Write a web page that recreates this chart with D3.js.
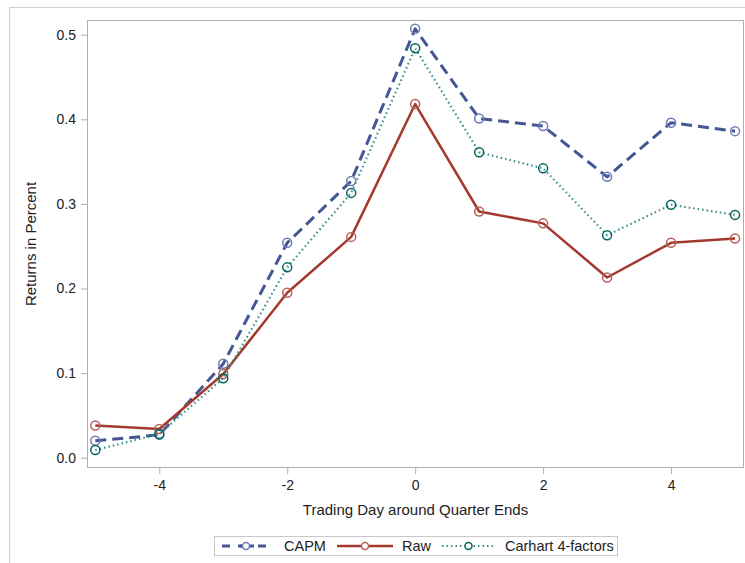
<!DOCTYPE html>
<html>
<head>
<meta charset="utf-8">
<script src="https://cdn.jsdelivr.net/npm/d3@7"></script>
<style>
  body { margin: 0; background: #fff; }
  svg { font-family: "Liberation Sans", Arial, sans-serif; }
</style>
</head>
<body>
<svg id="chart" width="745" height="563"></svg>
<script>
// data
const days = [-5, -4, -3, -2, -1, 0, 1, 2, 3, 4, 5];
const capm = [0.020, 0.027, 0.111, 0.254, 0.327, 0.507, 0.401, 0.392, 0.332, 0.396, 0.386];
const raw = [0.038, 0.034, 0.099, 0.195, 0.261, 0.418, 0.291, 0.277, 0.213, 0.254, 0.259];
const carhart = [0.009, 0.028, 0.094, 0.225, 0.313, 0.484, 0.361, 0.342, 0.263, 0.299, 0.287];
const xTicks = [-4, -2, 0, 2, 4];
const yTicks = [0.0, 0.1, 0.2, 0.3, 0.4, 0.5];

const series = [
  { name: "CAPM", values: capm, color: "#445694", mark: "#6f7db5", width: 3, dash: "11,6" },
  { name: "Raw", values: raw, color: "#a23a2e", mark: "#b8615a", width: 2.5, dash: null },
  { name: "Carhart 4-factors", values: carhart, color: "#3b8f88", mark: "#01665e", width: 2.2, dash: "1.5,3" }
];

const svg = d3.select("#chart");

// outer frame
svg.append("rect")
  .attr("x", 9.5).attr("y", 7.5)
  .attr("width", 760).attr("height", 600)
  .attr("fill", "none").attr("stroke", "#d0d0d0");

const plotL = 87, plotR = 744, plotT = 20, plotB = 468;

const x = d3.scaleLinear().domain([-5.13, 5.14]).range([plotL, plotR]);
const y = d3.scaleLinear().domain([0.0, 0.5]).range([457.7, 34.7]);

// plot frame
svg.append("rect")
  .attr("x", plotL + 0.5).attr("y", plotT + 0.5)
  .attr("width", plotR - plotL - 1).attr("height", plotB - plotT - 1)
  .attr("fill", "none").attr("stroke", "#a9b0b7");

const xAxis = svg.append("g")
  .attr("transform", "translate(0," + plotB + ")")
  .call(d3.axisBottom(x).tickValues(xTicks).tickSize(6).tickPadding(6).tickFormat(d3.format("d")));
const yAxis = svg.append("g")
  .attr("transform", "translate(" + plotL + ",0)")
  .call(d3.axisLeft(y).tickValues(yTicks).tickSize(6).tickPadding(5).tickFormat(d3.format(".1f")));

[xAxis, yAxis].forEach(a => {
  a.select(".domain").remove();
  a.selectAll(".tick line").attr("stroke", "#a9b0b7");
  a.selectAll(".tick text")
    .attr("fill", "#222")
    .style("font-size", "14px")
    .style("font-family", "'Liberation Sans', Arial, sans-serif");
});
// minus sign as plain hyphen like the original
xAxis.selectAll(".tick text").text(d => String(d));

svg.append("text")
  .attr("x", (plotL + plotR) / 2).attr("y", 515)
  .attr("text-anchor", "middle")
  .attr("fill", "#222")
  .style("font-size", "15px")
  .text("Trading Day around Quarter Ends");

svg.append("text")
  .attr("transform", "translate(36," + ((plotT + plotB) / 2) + ") rotate(-90)")
  .attr("text-anchor", "middle")
  .attr("fill", "#222")
  .style("font-size", "15px")
  .text("Returns in Percent");

const line = d3.line()
  .x((d, i) => x(days[i]))
  .y(d => y(d));

// draw order: CAPM, Raw, Carhart
series.forEach(s => {
  svg.append("path")
    .datum(s.values)
    .attr("d", line)
    .attr("fill", "none")
    .attr("stroke", s.color)
    .attr("stroke-width", s.width)
    .attr("stroke-dasharray", s.dash)
    .attr("stroke-linejoin", "round");

  svg.selectAll(null)
    .data(s.values)
    .enter()
    .append("circle")
    .attr("cx", (d, i) => x(days[i]))
    .attr("cy", d => y(d))
    .attr("r", 4.5)
    .attr("fill", "none")
    .attr("stroke", s.mark)
    .attr("stroke-width", 1.5);
});

// legend
const lg = svg.append("g");
lg.append("rect")
  .attr("x", 214.5).attr("y", 536.5)
  .attr("width", 403).attr("height", 19)
  .attr("fill", "#fff").attr("stroke", "#c8c8c8");

const legendItems = [
  { s: series[0], x0: 222, x1: 270, tx: 284, dash: "8,10" },
  { s: series[1], x0: 337, x1: 393, tx: 402, dash: null },
  { s: series[2], x0: 442, x1: 495, tx: 505, dash: "1.5,3" }
];
legendItems.forEach(it => {
  const cy = 546;
  const mx = (it.x0 + it.x1) / 2;
  lg.append("line")
    .attr("x1", it.x0).attr("x2", it.x1)
    .attr("y1", cy).attr("y2", cy)
    .attr("stroke", it.s.color)
    .attr("stroke-width", it.s.width)
    .attr("stroke-dasharray", it.dash);
  if (it.s.name === "CAPM") {
    lg.append("line")
      .attr("x1", mx - 8).attr("x2", mx + 8)
      .attr("y1", cy).attr("y2", cy)
      .attr("stroke", it.s.color).attr("stroke-width", it.s.width);
  }
  lg.append("circle")
    .attr("cx", mx).attr("cy", cy).attr("r", 3.5)
    .attr("fill", "#fff")
    .attr("stroke", it.s.mark)
    .attr("stroke-width", 1.5);
  lg.append("text")
    .attr("x", it.tx).attr("y", cy + 5)
    .attr("fill", "#222")
    .style("font-size", "14.5px")
    .text(it.s.name);
});
</script>
</body>
</html>
